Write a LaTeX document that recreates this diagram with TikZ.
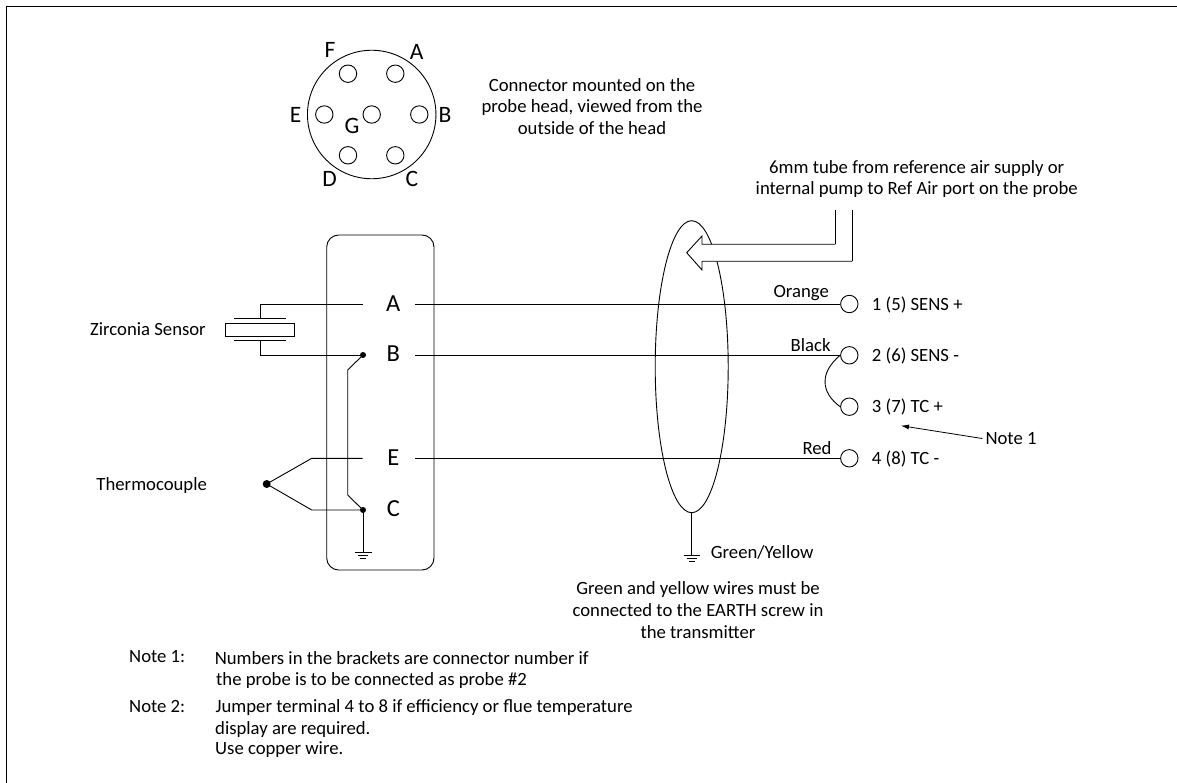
\documentclass[tikz,border=0pt]{standalone}
\usepackage{fontspec}
\setmainfont{Carlito}
\usetikzlibrary{arrows.meta}
\tikzset{
  wire/.style={draw=black,line width=0.9pt},
  pin/.style={circle,draw=black,line width=0.9pt,fill=white,minimum size=17.4pt,inner sep=0pt},
  hole/.style={circle,draw=black,line width=0.9pt,minimum size=17.4pt,inner sep=0pt},
  dot/.style={circle,fill=black,minimum size=6pt,inner sep=0pt},
  bigdot/.style={circle,fill=black,minimum size=8pt,inner sep=0pt},
  txt/.style={inner sep=0pt,font=\fontsize{18.7}{21.9}\selectfont},
  ltxt/.style={txt,anchor=west},
  rtxt/.style={txt,anchor=east},
  big/.style={inner sep=0pt,font=\fontsize{24.5}{28}\selectfont},
  mid/.style={inner sep=0pt,font=\fontsize{23.5}{27}\selectfont},
}
\begin{document}
\begin{tikzpicture}[x=1pt,y=-1pt]
\useasboundingbox (0,0) rectangle (1177,783);
\fill[white] (0,0) rectangle (1177,783);
% frame
\draw[line width=1.2pt] (6.5,783) -- (6.5,6.5) -- (1177,6.5);
% connector face
\node[circle,draw=black,line width=0.9pt,minimum size=128.5pt,inner sep=0pt] (face) at (371.7,114.5) {};
\node[hole] (hF) at (348,73.7) {};
\node[hole] (hA) at (395.3,73.7) {};
\node[hole] (hE) at (324.3,114.5) {};
\node[hole] (hG) at (371.7,114.5) {};
\node[hole] (hB) at (419.3,114.5) {};
\node[hole] (hD) at (348,155.3) {};
\node[hole] (hC) at (395.3,155.3) {};
\node[mid] (lF) at (330,50) {F};
\node[mid] (lA) at (416.7,52) {A};
\node[mid] (lE) at (295.7,115) {E};
\node[mid] (lB) at (445,115) {B};
\node[mid] (lG) at (352,126) {G};
\node[mid] (lD) at (329.7,179) {D};
\node[mid] (lC) at (412,179) {C};
\node[txt,align=center] (conntext) at (592,106.5) {Connector mounted on the\\probe head, viewed from the\\outside of the head};
% tube text
\node[txt,align=center] (tubetext) at (916.7,179) {6mm tube from reference air supply or\\internal pump to Ref Air port on the probe};
% probe box
\draw[wire,rounded corners=12pt] (326.7,235) rectangle (434,570);
\node[big] (tA) at (393.3,303.5) {A};
\node[big] (tB) at (393.3,354) {B};
\node[big] (tE) at (393.3,458) {E};
\node[big] (tC) at (393.3,509) {C};
% sensor
\coordinate (endA) at (362.7,304);
\coordinate (cornerA) at (260,304);
\coordinate (plateT) at (260,318.7);
\coordinate (plateB) at (260,340.3);
\coordinate (cornerB) at (260,355);
\node[dot] (dB) at (363,355) {};
\draw[wire] (endA) -- (cornerA) -- (plateT);
\draw[wire] (plateB) -- (cornerB) -- (dB.center);
\draw[wire] (225.3,323.3) rectangle (294.3,336);
\draw[wire] (234.3,318.7) -- (285.7,318.7);
\draw[wire] (234.3,340.3) -- (285.7,340.3);
\node[txt] (zs) at (148,329) {Zirconia Sensor};
% thermocouple
\node[bigdot] (tj) at (266.7,484) {};
\node[dot] (dC) at (363,510) {};
\coordinate (endE) at (362.7,458.3);
\draw[wire] (tj.center) -- (311.7,458.3) -- (endE);
\draw[wire] (tj.center) -- (311.7,510) -- (dC.center);
\node[txt] (tc) at (151.7,486) {Thermocouple};
% internal link
\draw[wire] (dB.center) -- (347.7,370) -- (347.7,495) -- (dC.center);
% ground left
\coordinate (g1) at (363,552.7);
\draw[wire] (dC.center) -- (g1);
\draw[line width=0.8pt] (355,552.7) -- (371.5,552.7);
\draw[line width=0.8pt] (358,555.5) -- (368,555.5);
\draw[line width=0.8pt] (360,558.3) -- (366,558.3);
% cable ellipse
\draw[wire] (691.7,366.7) ellipse [x radius=36.5pt,y radius=146pt];
\coordinate (eb) at (691.7,512.7);
\coordinate (g2) at (691.7,555.7);
\draw[wire] (eb) -- (g2);
\draw[line width=0.8pt] (683.5,555.7) -- (700,555.7);
\draw[line width=0.8pt] (686.5,558.5) -- (697,558.5);
\draw[line width=0.8pt] (689,561.3) -- (694.5,561.3);
\node[ltxt] (gy) at (710.7,552) {Green/Yellow};
\node[txt,align=center] (gytext) at (698,610) {Green and yellow wires must be\\connected to the EARTH screw in\\the transmitter};
% tube arrow
\draw[wire,fill=white,line join=miter] (835.3,244.3) -- (702,244.3) -- (702,236) -- (686.7,252.7) -- (702,270) -- (702,261.3) -- (852.3,261.3);
\draw[wire,line join=miter] (835.3,210) -- (835.3,244.3);
\draw[wire,line join=miter] (852.3,210) -- (852.3,261.3);
% terminals
\node[pin] (p1) at (849.3,304) {};
\node[pin] (p2) at (849.3,355.3) {};
\node[pin] (p3) at (849.3,406.7) {};
\node[pin] (p4) at (849.3,458.3) {};
\coordinate (stA) at (415,304);
\coordinate (stB) at (415,355.3);
\coordinate (stE) at (415,458.3);
\draw[wire] (stA) -- (p1.west);
\draw[wire] (stB) -- (p2.west);
\draw[wire] (stE) -- (p4.west);
\draw[wire] (p2.west) .. controls (820,372) and (820,392) .. (p3.west);
\node[ltxt] (t1) at (871.7,304.5) {1 (5) SENS +};
\node[ltxt] (t2) at (871.7,355.8) {2 (6) SENS -};
\node[ltxt] (t3) at (871.7,407.2) {3 (7) TC +};
\node[ltxt] (t4) at (871.7,458.8) {4 (8) TC -};
\node[rtxt] (orange) at (829,293) {Orange};
\node[rtxt] (black) at (830.7,345) {Black};
\node[rtxt] (red) at (831.7,448) {Red};
% note 1 pointer
\node[txt] (n1) at (1011,439) {Note 1};
\coordinate (n1tip) at (901,425.7);
\draw[line width=0.8pt,shorten <=3pt,-{Latex[length=8pt,width=5pt]}] (n1.west) -- (n1tip);
% notes
\node[ltxt] (na) at (129,657) {Note 1:};
\node[ltxt] (nb) at (214.6,658) {Numbers in the brackets are connector number if};
\node[ltxt] (nc) at (216,680.5) {the probe is to be connected as probe \#2};
\node[ltxt] (nd) at (129,706) {Note 2:};
\node[ltxt] (ne) at (215.5,707.5) {Jumper terminal 4 to 8 if efficiency or flue temperature};
\node[ltxt] (nf) at (215,729.5) {display are required.};
\node[ltxt] (ng) at (215,749.5) {Use copper wire.};
\end{tikzpicture}
\end{document}
